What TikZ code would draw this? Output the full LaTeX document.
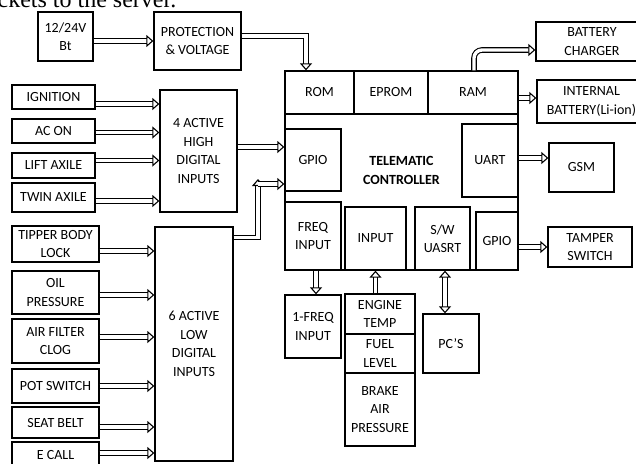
\documentclass[tikz,border=0pt]{standalone}
\usepackage{fontspec}
\setmainfont{Carlito}
\newfontfamily\paperfont{Liberation Serif}
\usetikzlibrary{arrows.meta}

\begin{document}
\begin{tikzpicture}[x=1pt, y=-1pt, line width=1.3pt,
    >={Triangle[open, length=7pt, width=12pt]},
    box/.style={draw, rectangle, inner sep=0pt, align=center,
                font=\fontsize{14}{18.5}\selectfont},
    dbl/.style={->, line width=1.1pt, double=white, double distance=3.4pt}]
    \useasboundingbox (0,0) rectangle (636,463);

    % line of the page text cut by the top edge
    \node[anchor=base west, inner sep=0pt, font=\paperfont\fontsize{24}{28}\selectfont]
        (pagetext) at (-3,7.5) {ckets to the server.};

    {
        \tikzset{every node/.append style = {box}}

        \node[minimum width=55pt, minimum height=49pt] (bt) at (65.5,36.5) {12/24V\\Bt};
        \node[minimum width=87pt, minimum height=58pt] (prot) at (197.5,41) {PROTECTION\\\& VOLTAGE};

        \node[minimum width=83pt, minimum height=24pt] (ign) at (53.5,97) {IGNITION};
        \node[minimum width=83pt, minimum height=24pt] (acon) at (53.5,131) {AC ON};
        \node[minimum width=83pt, minimum height=25pt] (lift) at (53.5,165.5) {LIFT AXILE};
        \node[minimum width=83pt, minimum height=29pt] (twin) at (53.5,197.5) {TWIN AXILE};
        \node[minimum width=77pt, minimum height=122pt] (high) at (198.5,151) {4 ACTIVE\\HIGH\\DIGITAL\\INPUTS};

        \node[minimum width=87pt, minimum height=36pt] (tipper) at (55.5,244) {TIPPER BODY\\LOCK};
        \node[minimum width=87pt, minimum height=43pt] (oil) at (55.5,292.5) {OIL\\PRESSURE};
        \node[minimum width=87pt, minimum height=44pt] (air) at (55.5,341) {AIR FILTER\\CLOG};
        \node[minimum width=87pt, minimum height=34pt] (pot) at (55.5,386) {POT SWITCH};
        \node[minimum width=87pt, minimum height=31pt] (seat) at (55.5,422.5) {SEAT BELT};
        \node[minimum width=87pt, minimum height=26pt] (ecall) at (55.5,455) {E CALL};
        \node[minimum width=78pt, minimum height=234pt] (low) at (194,344) {6 ACTIVE\\LOW\\DIGITAL\\INPUTS};

        \node[minimum width=233pt, minimum height=199pt, font=\fontsize{14}{18.5}\selectfont\bfseries]
            (ctrl) at (401.5,170.5) {TELEMATIC\\CONTROLLER};
        \node[minimum width=69pt, minimum height=43pt] (rom) at (319.5,92.5) {ROM};
        \node[minimum width=74pt, minimum height=43pt] (eprom) at (391,92.5) {EPROM};
        \node[minimum width=90pt, minimum height=43pt] (ram) at (473,92.5) {RAM};
        \node[minimum width=56pt, minimum height=62pt] (gpioa) at (313,160) {GPIO};
        \node[minimum width=56pt, minimum height=73pt] (uart) at (490,160.5) {UART};
        \node[minimum width=56pt, minimum height=68pt] (freq) at (313,236) {FREQ\\INPUT};
        \node[minimum width=61pt, minimum height=63pt] (input) at (375.5,238.5) {INPUT};
        \node[minimum width=55pt, minimum height=63pt] (swu) at (442.5,238.5) {S/W\\UASRT};
        \node[minimum width=42pt, minimum height=58pt] (gpiob) at (497,241) {GPIO};

        \node[minimum width=112pt, minimum height=39pt] (charger) at (592,41.5) {BATTERY\\CHARGER};
        \node[minimum width=109pt, minimum height=43pt] (intbat) at (591.5,101.5) {INTERNAL\\BATTERY(Li-ion)};
        \node[minimum width=65pt, minimum height=49pt] (gsm) at (581.5,167.5) {GSM};
        \node[minimum width=84pt, minimum height=40pt] (tamper) at (590,247) {TAMPER\\SWITCH};

        \node[minimum width=56pt, minimum height=63pt] (freqb) at (313,326.5) {1-FREQ\\INPUT};
        \node[minimum width=70pt, minimum height=40pt] (eng) at (380,314) {ENGINE\\TEMP};
        \node[minimum width=70pt, minimum height=39pt] (fuel) at (380,353.5) {FUEL\\LEVEL};
        \node[minimum width=70pt, minimum height=73pt] (brake) at (380,409.5) {BRAKE\\AIR\\PRESSURE};
        \node[minimum width=56pt, minimum height=59pt] (pcs) at (451,343.5) {PC'S};
    }

    \coordinate (lowup) at (258,179);
    \coordinate (lowjoin) at (258,184);

    % supply
    \draw[dbl] (bt.east |- prot.west) -- (prot.west);
    \draw[dbl] ([yshift=5pt]prot.east) -| ([xshift=-13.5pt]rom.north);

    % digital inputs
    \foreach \n/\s in {ign/-7, acon/-1.5, lift/5, twin/-3.5}
        \draw[dbl] ([yshift=\s pt]\n.east) -- ([yshift=\s pt]high.west |- \n.east);
    \foreach \n/\s in {tipper/-7, oil/-2.5, air/4, pot/0, seat/-4.5, ecall/2}
        \draw[dbl] ([yshift=\s pt]\n.east) -- ([yshift=\s pt]low.west |- \n.east);
    \draw[dbl] ([yshift=4pt]high.east) -- ([yshift=4pt]gpioa.west |- high.east);
    \draw[dbl] ([yshift=-11pt]low.north east) -| (lowup);
    \draw[dbl] (lowjoin) -- (lowjoin -| gpioa.west);

    % outputs
    \draw[dbl, rounded corners=8pt] ([xshift=1pt]ram.north) |- ([yshift=-8.5pt]charger.west);
    \draw[dbl] ([yshift=3.5pt]intbat.west -| ctrl.east) -- ([yshift=3.5pt]intbat.west);
    \draw[dbl] ([yshift=2.5pt]uart.east) -- ([yshift=2.5pt]gsm.west |- uart.east);
    \draw[dbl] (tamper.west -| gpiob.east) -- (tamper.west);

    % lower blocks
    \draw[dbl] ([xshift=3pt]freq.south) -- ([xshift=3pt]freqb.north);
    \draw[dbl] (input.south |- eng.north) -- (input.south);
    \draw[dbl, <->] ([xshift=2.5pt]swu.south) -- ([xshift=2.5pt]swu.south |- pcs.north);

\end{tikzpicture}
\end{document}
